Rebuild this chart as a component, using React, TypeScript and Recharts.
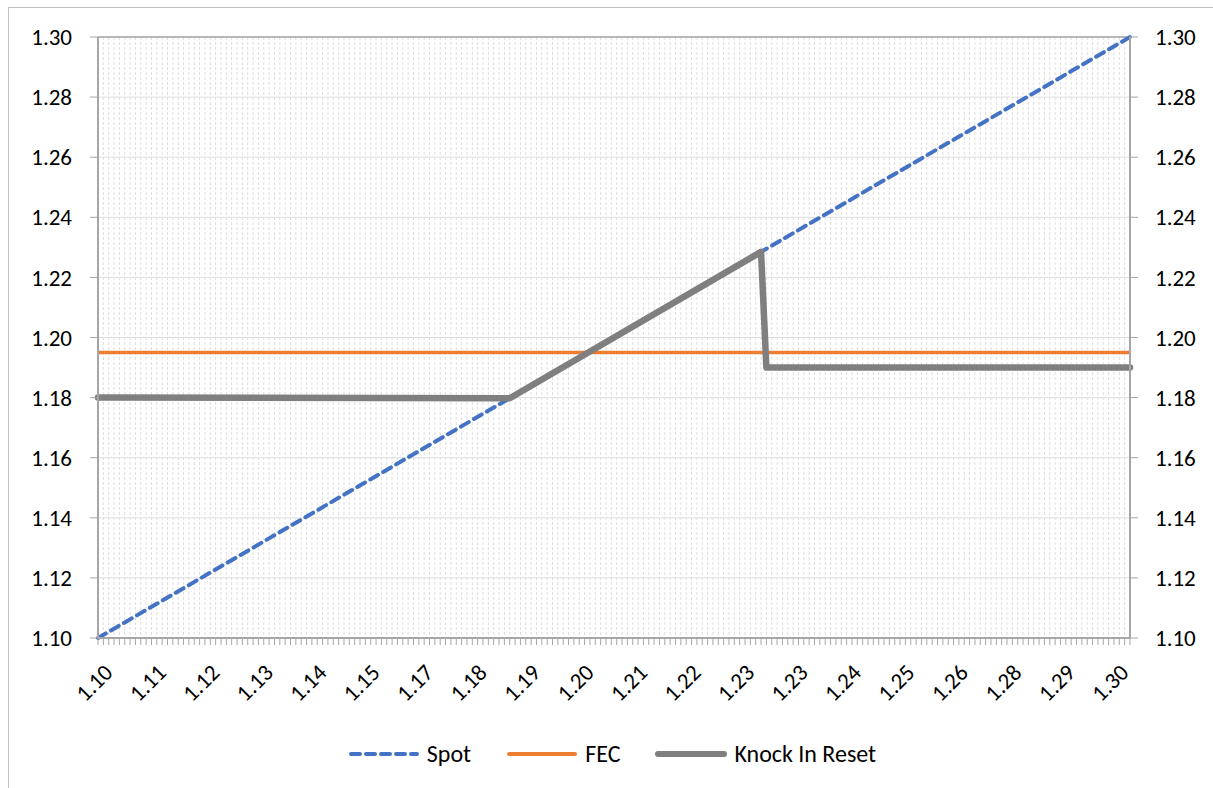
import React from 'react';
import { LineChart, Line, XAxis, YAxis, CartesianGrid, ReferenceLine } from 'recharts';

// category count on the x axis (one tick / gridline per category)
const CATEGORY_COUNT = 194;

// labels shown every 10th category
const xTickLabels = ['1.10', '1.11', '1.12', '1.13', '1.14', '1.15', '1.17', '1.18', '1.19', '1.20',
  '1.21', '1.22', '1.23', '1.23', '1.24', '1.25', '1.26', '1.28', '1.29', '1.30'];

const yTicks = [1.1, 1.12, 1.14, 1.16, 1.18, 1.2, 1.22, 1.24, 1.26, 1.28, 1.3];

// series, x = category position
const spotX = [0, 193];
const spotY = [1.10, 1.30];

const fecX = [0, 193];
const fecY = [1.195, 1.195];

const knockX = [0, 77, 124, 125, 193];
const knockY = [1.18, 1.1798, 1.2285, 1.19, 1.19];

const toPoints = (xs: number[], ys: number[]) => xs.map((x, i) => ({ x, y: ys[i] }));

const spotData = toPoints(spotX, spotY);
const fecData = toPoints(fecX, fecY);
const knockData = toPoints(knockX, knockY);

const categoryTicks = Array.from({ length: CATEGORY_COUNT }, (_, i) => i);

const FONT = 'Calibri, Carlito, Lato, sans-serif';
const AXIS = '#a6a6a6';
const GRID = '#dedede';

const XTick = (props: any) => {
  const { x, y, payload } = props;
  const idx = payload.value;
  if (idx % 10 !== 0) return null;
  const label = xTickLabels[idx / 10];
  if (!label) return null;
  return (
    <text
      x={x + 16}
      y={y + 27}
      transform={`rotate(-45, ${x + 16}, ${y + 27})`}
      textAnchor="end"
      fontSize={23}
      fontFamily={FONT}
      fill="#000"
    >
      {label}
    </text>
  );
};

const legendItems = [
  { name: 'Spot', color: '#4472C4', width: 4, dash: '9 6' },
  { name: 'FEC', color: '#ED7D31', width: 4, dash: undefined },
  { name: 'Knock In Reset', color: '#7F7F7F', width: 6, dash: undefined },
];

export default function App() {
  return (
    <div
      style={{
        position: 'absolute',
        left: 8,
        top: 7,
        width: 1300,
        height: 900,
        borderLeft: '1px solid #bfbfbf',
        borderTop: '1px solid #bfbfbf',
        boxSizing: 'border-box',
        background: '#fff',
      }}
    >
      <LineChart
        width={1204}
        height={780}
        margin={{ top: 29, right: 13, left: 19, bottom: 0 }}
        style={{ fontFamily: FONT }}
      >
        <CartesianGrid horizontal={false} stroke={GRID} strokeDasharray="3 2" yAxisId="l" />
        <CartesianGrid vertical={false} stroke={GRID} yAxisId="l" />
        <XAxis
          type="number"
          dataKey="x"
          domain={[0, CATEGORY_COUNT - 1]}
          ticks={categoryTicks}
          interval={0}
          tick={<XTick />}
          tickLine={{ stroke: AXIS }}
          tickSize={7}
          axisLine={{ stroke: AXIS, strokeWidth: 2 }}
          height={150}
          allowDecimals={false}
        />
        <YAxis
          yAxisId="l"
          domain={[1.1, 1.3]}
          ticks={yTicks}
          interval={0}
          tickFormatter={(v: number) => v.toFixed(2)}
          tick={{ fontSize: 23, fill: '#000', fontFamily: FONT }}
          tickLine={{ stroke: AXIS }}
          tickSize={8}
          tickMargin={18}
          axisLine={{ stroke: AXIS, strokeWidth: 2 }}
          width={70}
        />
        <YAxis
          yAxisId="r"
          orientation="right"
          domain={[1.1, 1.3]}
          ticks={yTicks}
          interval={0}
          allowDataOverflow
          tickFormatter={(v: number) => v.toFixed(2)}
          tick={{ fontSize: 23, fill: '#000', fontFamily: FONT }}
          tickLine={{ stroke: AXIS }}
          tickSize={8}
          tickMargin={17}
          axisLine={{ stroke: AXIS, strokeWidth: 2 }}
          width={70}
        />
        <ReferenceLine yAxisId="l" y={1.3} stroke={AXIS} strokeWidth={1.5} />
        <Line
          yAxisId="r"
          data={spotData}
          dataKey="y"
          stroke="none"
          dot={false}
          legendType="none"
          isAnimationActive={false}
        />
        <Line
          yAxisId="l"
          data={spotData}
          dataKey="y"
          name="Spot"
          stroke="#4472C4"
          strokeWidth={4}
          strokeDasharray="9 6"
          strokeLinecap="round"
          dot={false}
          isAnimationActive={false}
        />
        <Line
          yAxisId="l"
          data={fecData}
          dataKey="y"
          name="FEC"
          stroke="#ED7D31"
          strokeWidth={3.5}
          dot={false}
          isAnimationActive={false}
        />
        <Line
          yAxisId="l"
          data={knockData}
          dataKey="y"
          name="Knock In Reset"
          stroke="#7F7F7F"
          strokeWidth={6.5}
          strokeLinejoin="round"
          strokeLinecap="round"
          dot={false}
          isAnimationActive={false}
        />
      </LineChart>
      <div
        style={{
          position: 'absolute',
          top: 731,
          left: 0,
          width: 1205,
          display: 'flex',
          justifyContent: 'center',
          alignItems: 'center',
          fontFamily: FONT,
          fontSize: 24,
          color: '#000',
        }}
      >
        {legendItems.map((item) => (
          <div key={item.name} style={{ display: 'flex', alignItems: 'center', margin: '0 17px' }}>
            <svg width={74} height={12} style={{ marginRight: 6 }}>
              <line
                x1={4}
                y1={6}
                x2={70}
                y2={6}
                stroke={item.color}
                strokeWidth={item.width}
                strokeDasharray={item.dash}
                strokeLinecap="round"
              />
            </svg>
            <span>{item.name}</span>
          </div>
        ))}
      </div>
    </div>
  );
}
